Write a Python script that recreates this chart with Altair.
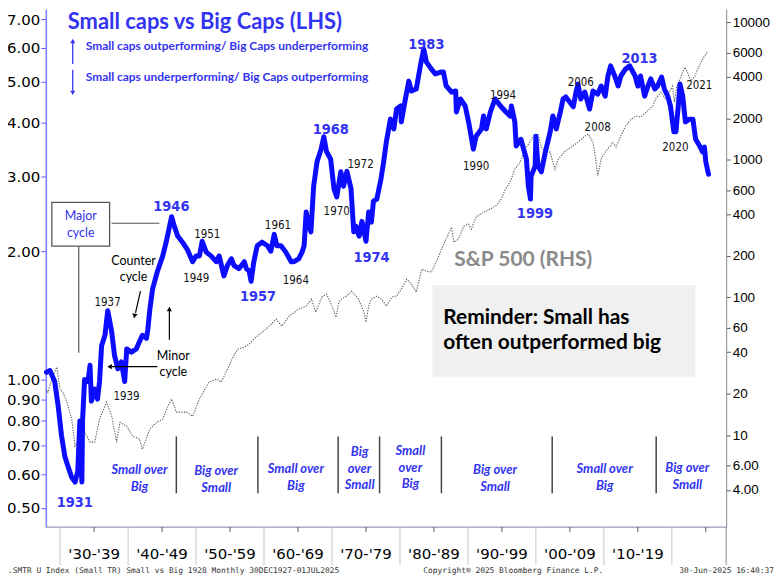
import altair as alt
import pandas as pd

# ---------------- data ----------------
rel_year = [
    1928.0, 1928.5, 1929.2, 1929.7, 1930.2, 1930.7, 1931.1, 1931.7, 1932.2, 1932.6,
    1932.9, 1933.2, 1933.3, 1933.6, 1934.1, 1934.4, 1934.6, 1935.1, 1935.5, 1935.8,
    1936.1, 1936.6, 1937.0, 1937.3, 1937.6, 1938.0, 1938.5, 1939.0, 1939.5, 1939.8,
    1940.5, 1941.2, 1941.7, 1942.1, 1942.7, 1942.9, 1943.2, 1943.6, 1944.3, 1945.1,
    1945.6, 1946.4, 1946.8, 1947.3, 1948.0, 1948.7, 1949.5, 1950.0, 1950.5, 1950.9,
    1951.5, 1952.2, 1953.0, 1953.4, 1954.1, 1954.6, 1955.2, 1955.6, 1956.3, 1957.1,
    1957.4, 1957.8, 1958.1, 1958.5, 1959.0, 1959.7, 1960.5, 1961.0, 1961.5, 1961.9,
    1962.5, 1963.2, 1964.0, 1964.4, 1965.1, 1965.6, 1965.9, 1966.2, 1966.6, 1966.9,
    1967.3, 1967.8, 1968.4, 1968.8, 1969.2, 1969.8, 1970.3, 1970.7, 1971.3, 1971.7,
    1972.2, 1972.8, 1973.2, 1973.5, 1974.0, 1974.4, 1975.0, 1975.4, 1975.8, 1976.1,
    1976.6, 1977.2, 1977.6, 1978.0, 1978.6, 1979.1, 1979.5, 1980.1, 1980.2, 1980.8,
    1981.3, 1981.7, 1982.4, 1983.0, 1983.5, 1983.9, 1984.6, 1985.2, 1986.0, 1986.4,
    1986.8, 1987.6, 1988.2, 1988.3, 1988.9, 1989.6, 1990.1, 1990.8, 1991.2, 1992.0,
    1992.3, 1992.7, 1993.3, 1994.0, 1994.8, 1995.2, 1995.6, 1996.2, 1996.4, 1996.9,
    1997.1, 1997.8, 1998.6, 1998.9, 1999.2, 1999.3, 1999.9, 2000.0, 2000.3, 2000.8,
    2001.4, 2002.1, 2002.5, 2003.0, 2003.6, 2004.0, 2004.4, 2005.0, 2005.5, 2005.9,
    2006.2, 2006.6, 2007.2, 2007.9, 2008.4, 2009.1, 2009.6, 2010.2, 2010.6, 2011.0,
    2011.6, 2012.1, 2012.5, 2013.2, 2013.8, 2014.6, 2015.0, 2015.4, 2016.0, 2016.5,
    2016.9, 2017.5, 2017.9, 2018.5, 2018.9, 2019.4, 2019.8, 2020.3, 2020.6, 2021.0,
    2021.2, 2021.6, 2022.0, 2022.6, 2023.1, 2023.5, 2024.1, 2024.5, 2024.8, 2025.0, 2025.4,
]
rel_value = [
    1.04, 1.05, 0.99, 0.87, 0.74, 0.66, 0.63, 0.59, 0.575, 0.61,
    0.80, 0.575, 0.80, 1.00, 0.99, 1.08, 0.89, 0.95, 0.90, 0.99,
    1.20, 1.27, 1.45, 1.37, 1.29, 1.14, 1.06, 1.10, 0.99, 1.18,
    1.16, 1.18, 1.23, 1.27, 1.25, 1.31, 1.46, 1.63, 1.79, 1.95,
    2.10, 2.41, 2.29, 2.17, 2.10, 2.02, 1.89, 1.95, 1.95, 2.11,
    1.99, 1.95, 1.89, 1.95, 1.75, 1.85, 1.92, 1.85, 1.82, 1.89,
    1.82, 1.80, 1.70, 1.89, 2.06, 2.10, 2.06, 2.00, 2.19, 2.06,
    2.06, 1.99, 1.89, 1.89, 1.92, 1.99, 2.06, 2.47, 2.29, 2.22,
    2.84, 3.24, 3.47, 3.71, 3.42, 3.29, 2.80, 2.68, 3.07, 2.84,
    3.08, 2.80, 2.22, 2.29, 2.17, 2.35, 2.11, 2.47, 2.34, 2.62,
    2.65, 2.95, 3.24, 3.61, 4.08, 3.87, 4.31, 4.38, 4.02, 4.55,
    5.01, 4.75, 4.80, 5.44, 5.96, 5.55, 5.35, 5.21, 5.26, 5.26,
    4.88, 4.72, 4.75, 4.24, 4.55, 4.38, 4.02, 3.47, 3.72, 3.87,
    4.15, 3.87, 4.24, 4.55, 4.38, 4.31, 4.24, 4.15, 4.38, 4.02,
    3.53, 3.66, 3.29, 2.84, 2.65, 3.00, 3.17, 3.72, 3.17, 3.07,
    3.42, 3.81, 4.15, 3.87, 4.24, 4.55, 4.60, 4.47, 4.36, 4.72,
    4.93, 4.55, 4.72, 4.31, 4.75, 4.67, 4.88, 4.62, 5.15, 5.44,
    5.15, 4.88, 5.15, 5.35, 5.44, 5.15, 4.88, 5.15, 4.62, 4.88,
    5.07, 4.80, 4.88, 5.12, 4.80, 4.62, 4.38, 3.81, 3.81, 4.47,
    4.93, 4.62, 4.02, 4.08, 4.08, 3.66, 3.53, 3.42, 3.51, 3.24, 3.03,
]

spx_year = [
    1927.9, 1928.2, 1928.9, 1929.5, 1930.0, 1930.4, 1931.0, 1931.7, 1932.2, 1932.9,
    1933.6, 1934.4, 1935.1, 1935.8, 1936.4, 1936.8, 1937.6, 1938.3, 1938.8, 1939.8,
    1940.7, 1941.7, 1942.1, 1943.2, 1944.2, 1945.1, 1945.8, 1946.4, 1947.1, 1948.6,
    1949.5, 1950.5, 1951.9, 1953.0, 1953.7, 1954.4, 1955.3, 1956.1, 1957.1, 1957.8,
    1958.8, 1960.3, 1961.8, 1962.6, 1963.7, 1965.1, 1966.2, 1967.0, 1967.6, 1968.5,
    1969.2, 1970.0, 1970.6, 1971.0, 1971.4, 1972.5, 1972.9, 1973.9, 1974.7, 1975.0,
    1975.4, 1975.8, 1976.6, 1977.3, 1978.0, 1978.8, 1979.5, 1980.2, 1981.0, 1981.7,
    1982.4, 1983.2, 1983.9, 1984.6, 1985.4, 1986.1, 1986.8, 1987.6, 1987.9, 1988.6,
    1989.4, 1990.1, 1990.5, 1991.2, 1992.3, 1993.3, 1994.2, 1994.9, 1995.5, 1996.2,
    1996.9, 1997.7, 1998.4, 1999.2, 1999.6, 2000.3, 2000.8, 2001.4, 2002.1, 2002.8,
    2003.3, 2004.3, 2005.2, 2006.2, 2007.2, 2007.7, 2008.4, 2008.8, 2009.1, 2009.6,
    2010.2, 2010.9, 2011.3, 2011.8, 2012.5, 2013.2, 2014.0, 2014.7, 2015.4, 2016.2,
    2017.2, 2017.6, 2018.4, 2019.1, 2019.7, 2020.1, 2020.4, 2020.7, 2021.2, 2021.9,
    2022.3, 2022.8, 2023.4, 2023.8, 2024.3, 2024.8, 2025.3,
]
spx_value = [
    21.6, 20.5, 26.8, 31.2, 21.6, 20.5, 17.4, 13.1, 8.32, 9.67,
    10.5, 8.90, 8.90, 13.1, 15.4, 17.4, 13.7, 8.90, 12.4, 11.6,
    9.83, 9.35, 7.91, 11.1, 12.4, 13.1, 16.0, 18.3, 14.7, 14.7,
    13.7, 18.3, 24.3, 25.5, 24.3, 28.7, 35.6, 42.1, 43.6, 45.8,
    51.5, 58.9, 69.6, 61.9, 73.1, 82.2, 86.5, 97.2, 78.2, 100.5,
    105.7, 86.5, 71.9, 92.5, 97.2, 105.7, 111.1, 97.2, 78.2, 66.1,
    86.5, 97.2, 102.2, 97.2, 86.5, 100.5, 102.2, 114.9, 135.8, 124.9,
    109.3, 160.6, 155.2, 152.7, 183.5, 224.3, 265.1, 323.9, 252.1, 265.1,
    329.4, 340.6, 313.3, 383.0, 416.5, 437.9, 468.0, 517.6, 611.6, 687.7,
    854.6, 960.7, 1194, 1365, 1484, 1534, 1234, 1136, 1136, 854.6,
    1010, 1155, 1234, 1342, 1484, 1534, 1342, 1010, 760.2, 1010,
    1136, 1255, 1342, 1234, 1484, 1754, 1972, 2073, 2039, 2217,
    2451, 2755, 3097, 2755, 3149, 3423, 2620, 3365, 3848, 4705,
    4328, 3723, 4047, 4550, 5113, 5654, 6149,
]

left_ticks = [0.5, 0.6, 0.7, 0.8, 0.9, 1, 2, 3, 4, 5, 6, 7]
right_ticks = [4, 6, 10, 20, 40, 60, 100, 200, 400, 600, 1000, 2000, 4000, 6000, 10000]

decade_starts = [1930, 1940, 1950, 1960, 1970, 1980, 1990, 2000, 2010, 2020]
half_decades = [1935, 1945, 1955, 1965, 1975, 1985, 1995, 2005, 2015, 2025]
decade_labels = ["'30-'39", "'40-'49", "'50-'59", "'60-'69", "'70-'79",
                 "'80-'89", "'90-'99", "'00-'09", "'10-'19"]
regime_bounds = [1947.1, 1959.1, 1970.9, 1977.0, 1986.1, 2002.4, 2017.7]

# ---------------- layout ----------------
W, H = 683, 520
OX, OY = 46, 8


def px(x):
    return x - OX


def py(y):
    return y - OY


XS = alt.Scale(domain=[1927.9, 2028.0], nice=False, zero=False)
LS = alt.Scale(type="log", domain=[0.451, 7.39], nice=False)
RS = alt.Scale(type="log", domain=[2.15, 12420], nice=False)

BLUE_LINE = "#0c0cff"
BLUE_TXT = "#3333f2"
NARROW = "Liberation Sans Narrow, DejaVu Sans Condensed, Liberation Sans, sans-serif"
LATO = "Lato"

one = pd.DataFrame({"k": [0]})
rel_df = pd.DataFrame({"year": rel_year, "ratio": rel_value})
spx_df = pd.DataFrame({"year": spx_year, "spx": spx_value})
dec_df = pd.DataFrame({"decade": decade_starts})
half_df = pd.DataFrame({"half": half_decades})
declab_df = pd.DataFrame({"mid": half_decades[:len(decade_labels)], "lab": decade_labels})
reg_df = pd.DataFrame({"bound": regime_bounds})


def label(text, x, y, size=11, color="black", font=NARROW, weight="normal",
          align="center", baseline="middle", style="normal", lh=None):
    kw = dict(text=text, fontSize=size, color=color, font=font, fontWeight=weight,
              align=align, baseline=baseline, fontStyle=style)
    if lh is not None:
        kw["lineHeight"] = lh
    return alt.Chart(one).mark_text(**kw).encode(x=alt.value(px(x)), y=alt.value(py(y)))


def seg(x1, y1, x2, y2, color, width=1.0):
    return alt.Chart(one).mark_rule(color=color, strokeWidth=width).encode(
        x=alt.value(px(x1)), y=alt.value(py(y1)), x2=alt.value(px(x2)), y2=alt.value(py(y2)))


def head(x, y, shape, color, size=40, angle=0):
    return alt.Chart(one).mark_point(shape=shape, filled=True, size=size, color=color,
                                     opacity=1, angle=angle).encode(
        x=alt.value(px(x)), y=alt.value(py(y)))


layers = []

# Reminder box (background)
layers.append(alt.Chart(one).mark_rect(color="#f0f0f0").encode(
    x=alt.value(px(434)), x2=alt.value(px(698)), y=alt.value(py(285)), y2=alt.value(py(377))))

# S&P 500 (right axis)
spx_line = alt.Chart(spx_df).mark_line(color="#5e5e5e", strokeWidth=1.1, strokeDash=[1.3, 1.3]).encode(
    x=alt.X("year:Q", scale=XS, axis=None),
    y=alt.Y("spx:Q", scale=RS, axis=alt.Axis(
        orient="right", values=right_ticks, title=None, grid=False,
        labelExpr="datum.value < 10 ? format(datum.value, '.2f') : format(datum.value, 'd')",
        labelFont="Liberation Sans", labelFontSize=13.5, labelColor="black", labelPadding=2,
        tickSize=4, tickColor="#555", domainColor="#8a8a8a", domainWidth=1,
        labelOverlap=False, labelFlush=False, labelBound=False)),
)
layers.append(spx_line)

# Small vs Big ratio (left axis)
rel_line = alt.Chart(rel_df).mark_line(color=BLUE_LINE, strokeWidth=5, strokeJoin="round",
                                       strokeCap="round").encode(
    x=alt.X("year:Q", scale=XS, axis=None),
    y=alt.Y("ratio:Q", scale=LS, axis=alt.Axis(
        orient="left", values=left_ticks, format=".2f", title=None, grid=False,
        labelFont="DejaVu Sans", labelFontSize=15, labelColor="black", labelPadding=1,
        tickSize=5, tickColor="#5a5aff", domainColor="#7b7bff", domainWidth=1.5,
        labelOverlap=False, labelFlush=False, labelBound=False)),
)
layers.append(rel_line)

# bottom axis line, right axis extension
layers.append(seg(46, 528, 729, 528, "#9a9ab8", 1.2))
layers.append(seg(729, 528, 729, 566, "#8a8a8a", 1))

# decade ticks & labels
layers.append(alt.Chart(dec_df).mark_rule(color="#cfcfcf", strokeWidth=1.2).encode(
    x=alt.X("decade:Q", scale=XS, axis=None), y=alt.value(py(528)), y2=alt.value(py(566))))
layers.append(alt.Chart(half_df).mark_rule(color="#555", strokeWidth=1).encode(
    x=alt.X("half:Q", scale=XS, axis=None), y=alt.value(py(528)), y2=alt.value(py(533))))
layers.append(alt.Chart(declab_df).mark_text(font="DejaVu Sans", fontSize=15, color="black",
                                             baseline="middle").encode(
    x=alt.X("mid:Q", scale=XS, axis=None), y=alt.value(py(555)), text="lab:N"))

# regime separators
layers.append(alt.Chart(reg_df).mark_rule(color="#444", strokeWidth=1.5).encode(
    x=alt.X("bound:Q", scale=XS, axis=None), y=alt.value(py(437)), y2=alt.value(py(494))))

# regime labels (y = centre of first line)
regimes = [
    (["Small over", "Big"], 140, 471),
    (["Big over", "Small"], 217, 472),
    (["Small over", "Big"], 297, 470),
    (["Big", "over", "Small"], 361, 453),
    (["Small", "over", "Big"], 412, 452),
    (["Big over", "Small"], 497, 471),
    (["Small over", "Big"], 607, 470),
    (["Big over", "Small"], 690, 469),
]
for txt, x, y in regimes:
    layers.append(label(txt, x, y, size=13, color=BLUE_TXT, font=LATO, weight="bold",
                        style="italic", lh=16.5))

# title block
layers.append(label("Small caps vs Big Caps (LHS)", 68, 21, size=22, color=BLUE_TXT,
                    font=LATO, weight="bold", align="left"))
layers.append(label("Small caps outperforming/ Big Caps underperforming", 86, 45, size=12,
                    color=BLUE_TXT, font=LATO, weight="bold", align="left"))
layers.append(label("Small caps underperforming/ Big Caps outperforming", 86, 76, size=12,
                    color=BLUE_TXT, font=LATO, weight="bold", align="left"))
layers.append(seg(73, 63, 73, 42, BLUE_TXT, 1.3))
layers.append(head(73, 40, "triangle-up", BLUE_TXT, 25))
layers.append(seg(73, 69, 73, 90, BLUE_TXT, 1.3))
layers.append(head(73, 92, "triangle-down", BLUE_TXT, 25))

# S&P label and reminder
layers.append(label("S&P 500 (RHS)", 456, 260, size=21, color="#8a8a8a", font=LATO,
                    weight="bold", align="left"))
layers.append(label(["Reminder: Small has", "often outperformed big"], 445, 318, size=21,
                    color="black", font=LATO, weight="bold", align="left", lh=25))

# big blue year labels
for txt, x, y in [("1931", 75, 504), ("1946", 172, 207), ("1957", 259, 297),
                  ("1968", 332, 129), ("1974", 373, 258), ("1983", 428, 44),
                  ("1999", 537, 214), ("2013", 642, 58)]:
    layers.append(label(txt, x, y, size=14.5, color=BLUE_TXT, font=NARROW, weight="bold"))

# small black year labels
for txt, x, y in [("1937", 108, 303), ("1939", 127, 397), ("1951", 208, 235),
                  ("1949", 197, 279), ("1961", 279, 226), ("1964", 297, 281),
                  ("1972", 362, 165), ("1970", 338, 212), ("1990", 478, 167),
                  ("1994", 505, 95), ("2006", 583, 82), ("2008", 600, 127),
                  ("2020", 678, 147), ("2021", 702, 85)]:
    layers.append(label(txt, x, y, size=11.5, color="#111", font=NARROW, weight="normal"))

# Major cycle box and connectors
layers.append(seg(112, 223, 160, 223, "#555", 1.2))
layers.append(seg(79, 246, 79, 353, "#555", 1.2))
layers.append(alt.Chart(one).mark_rect(fill="white", stroke="#555", strokeWidth=1.3).encode(
    x=alt.value(px(52)), x2=alt.value(px(110)), y=alt.value(py(202)), y2=alt.value(py(246))))
layers.append(label(["Major", "cycle"], 81, 216, size=12.5, color=BLUE_TXT, font=LATO, lh=17))

# Counter cycle
layers.append(label(["Counter", "cycle"], 134, 261, size=12.5, color="black", font=LATO, lh=15.5))
layers.append(seg(141, 291, 136, 313, "black", 1.2))
layers.append(head(135, 316, "triangle-down", "black", 28, 12))

# Minor cycle
layers.append(label(["Minor", "cycle"], 174, 356, size=12.5, color="black", font=LATO, lh=16))
layers.append(seg(170, 340, 170, 311, "black", 1.2))
layers.append(head(170, 309, "triangle-up", "black", 28))
layers.append(seg(158, 367, 112, 367, "black", 1.2))
layers.append(head(110, 367, "triangle-left", "black", 28))

# footer
layers.append(label(".SMTR U Index (Small TR) Small vs Big 1928  Monthly 30DEC1927-01JUL2025",
                    8, 572, size=7.9, color="#333", font="DejaVu Sans Mono", align="left"))
layers.append(label("Copyright\u00ae 2025 Bloomberg Finance L.P.", 425, 572, size=7.9,
                    color="#333", font="DejaVu Sans Mono", align="left"))
layers.append(label("30-Jun-2025 16:40:37", 777, 572, size=7.9, color="#333",
                    font="DejaVu Sans Mono", align="right"))

chart = alt.layer(*layers).resolve_scale(y="independent").properties(
    width=W, height=H,
    padding={"left": 38, "top": 0, "right": 48, "bottom": 50},
    autosize=alt.AutoSizeParams(type="none"),
).configure_view(stroke=None)

chart.save("out.html", embed_options={"renderer": "svg", "actions": False})
